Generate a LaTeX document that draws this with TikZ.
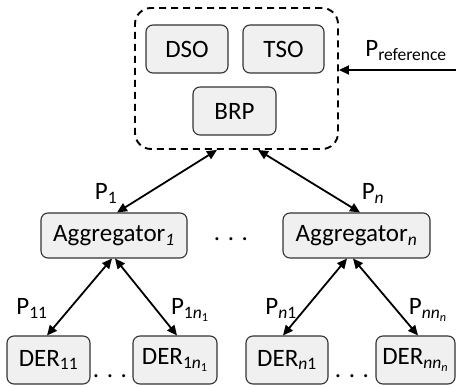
\documentclass[tikz,border=0pt]{standalone}
\usepackage{fontspec}
\setmainfont{Carlito}
\usetikzlibrary{arrows.meta}
\begin{document}
\begin{tikzpicture}[
    x=1pt, y=-1pt,
    every node/.style={font=\fontsize{25}{29}\selectfont},
    actor/.style={draw=black!80, fill=black!6, rounded corners=7pt, line width=1.1pt,
                  minimum height=48pt, inner sep=2pt},
    group/.style={draw, dashed, dash pattern=on 7pt off 5pt, line width=1.9pt,
                  rounded corners=16pt, minimum width=203pt, minimum height=141pt},
    link/.style={{Triangle[length=10pt,width=9pt]}-{Triangle[length=10pt,width=9pt]}, line width=1.8pt},
    feed/.style={-{Triangle[length=10pt,width=9pt]}, line width=1.8pt},
    lbl/.style={anchor=base, inner sep=0pt}
  ]
    \useasboundingbox (0,0) rectangle (456,387);

    \node[group] (sys) at (236.5,78.5) {};
    \node[actor, minimum width=82pt] (dso) at (187,49)    {DSO};
    \node[actor, minimum width=81pt] (tso) at (283.5,49)  {TSO};
    \node[actor, minimum width=83pt] (brp) at (234.5,111) {BRP};

    \node[actor, minimum width=146pt, minimum height=45pt] (agg1) at (114,235.5)   {Aggregator\textsubscript{\textit{1}}};
    \node[actor, minimum width=147pt, minimum height=45pt] (aggn) at (356.5,235.5) {Aggregator\textsubscript{\textit{n}}};

    \node[actor, minimum width=83pt] (der11) at (48.5,360)  {DER\textsubscript{11}};
    \node[actor, minimum width=84pt] (der1n) at (175,360)   {DER\textsubscript{1\textit{n}\textsubscript{1}}};
    \node[actor, minimum width=82pt] (dern1) at (287,360)   {DER\textsubscript{\textit{n}1}};
    \node[actor, minimum width=79pt] (dernn) at (415.5,360) {DER\textsubscript{\textit{nn}\textsubscript{\textit{n}}}};

    \coordinate (src) at (456,70);
    \draw[feed] (src) -- ([yshift=8.5pt]sys.east);
    \node[lbl] (pref) at (406,57) {P\textsubscript{reference}};

    \draw[link] ([xshift=-19.5pt]sys.south) -- ([xshift=3pt]agg1.north);
    \draw[link] ([xshift=21.5pt]sys.south)  -- ([xshift=3.5pt]aggn.north);
    \node[lbl] (p1) at (106,200) {P\textsubscript{1}};
    \node[lbl] (pn) at (373,200) {P\textsubscript{\textit{n}}};

    \draw[link] ([xshift=-2pt]agg1.south)   -- ([xshift=-1.5pt]der11.north);
    \draw[link] ([xshift=1pt]agg1.south)    -- ([xshift=2pt]der1n.north);
    \draw[link] ([xshift=-9.5pt]aggn.south) -- ([xshift=-4pt]dern1.north);
    \draw[link] ([xshift=-3.5pt]aggn.south) -- ([xshift=2.5pt]dernn.north);
    \node[lbl] (p11) at (32,315)  {P\textsubscript{11}};
    \node[lbl] (p1n) at (190,315) {P\textsubscript{1\textit{n}\textsubscript{1}}};
    \node[lbl] (pn1) at (281,315) {P\textsubscript{\textit{n}1}};
    \node[lbl] (pnn) at (428,315) {P\textsubscript{\textit{nn}\textsubscript{\textit{n}}}};

    \node[lbl] (dotsa) at (231,241) {. . .};
    \node[lbl] (dotsb) at (110,378) {. . .};
    \node[lbl] (dotsc) at (352,378) {. . .};
  \end{tikzpicture}
\end{document}
